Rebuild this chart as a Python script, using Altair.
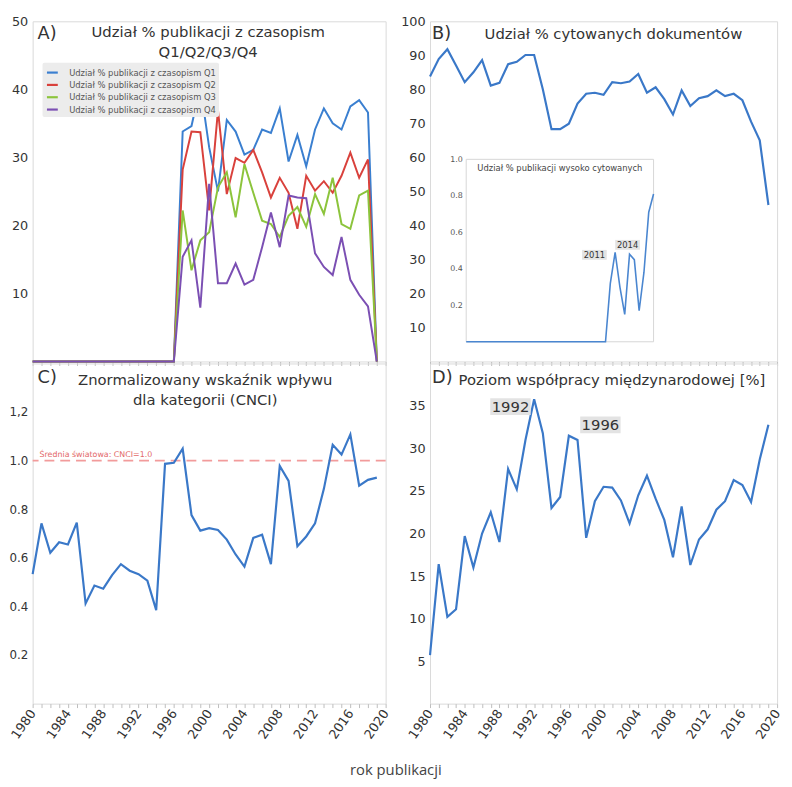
import altair as alt
import pandas as pd

FONT = "DejaVu Sans"
TXT = "#333333"
BLUE = "#3a78c8"

# ---------------- data ----------------
years = list(range(1980, 2020))
year_ticks = list(range(1980, 2021))

q_names = [
    "Udział % publikacji z czasopism Q1",
    "Udział % publikacji z czasopism Q2",
    "Udział % publikacji z czasopism Q3",
    "Udział % publikacji z czasopism Q4",
]
q_colors = ["#3a7fd0", "#d9413c", "#8cc43c", "#7b4fb3"]

zeros_before = [0] * 17  # 1980-1996
q1_share = zeros_before + [33.8, 34.6, 40.5, 31.5, 25.0, 35.5, 33.8, 30.4, 31.1, 34.1, 33.6,
                           37.2, 29.4, 33.3, 28.7, 34.1, 37.2, 35.0, 34.1, 37.5, 38.4, 36.6] + [0]
q2_share = zeros_before + [28.2, 33.8, 33.7, 22.2, 36.9, 24.6, 29.9, 29.2, 31.1, 27.8, 24.1,
                           27.0, 24.8, 19.5, 27.3, 25.1, 26.5, 24.8, 27.3, 30.7, 27.0, 29.7] + [0]
q3_share = zeros_before + [22.2, 13.4, 17.8, 19.0, 25.6, 27.8, 21.2, 29.0, 24.8, 20.7, 20.2,
                           18.3, 21.4, 22.7, 19.8, 24.6, 21.7, 27.0, 20.2, 19.5, 24.4, 25.1] + [0]
q4_share = zeros_before + [15.4, 17.8, 7.9, 26.1, 11.5, 11.5, 14.4, 11.3, 12.0, 16.8, 21.9,
                           16.8, 24.4, 24.1, 24.0, 15.9, 13.9, 12.7, 18.3, 12.0, 9.8, 8.1] + [0]

cited_share = [83.8, 88.9, 91.8, 87.0, 82.1, 85.0, 88.6, 81.1, 81.9, 87.4,
               88.1, 90.1, 90.1, 80.0, 68.3, 68.3, 69.9, 75.8, 78.7, 79.0,
               78.4, 82.1, 81.8, 82.3, 84.5, 79.0, 80.6, 77.1, 72.6, 79.7,
               75.1, 77.4, 78.0, 79.7, 78.0, 78.7, 76.8, 70.5, 65.0, 46.0]

highly_cited = [0] * 30 + [0.32, 0.49, 0.30, 0.15, 0.48, 0.45, 0.17, 0.38, 0.71, 0.81]

cnci = [0.533, 0.742, 0.621, 0.664, 0.655, 0.745, 0.412, 0.486, 0.473, 0.529,
        0.574, 0.547, 0.533, 0.506, 0.385, 0.987, 0.991, 1.049, 0.776, 0.712,
        0.722, 0.715, 0.675, 0.614, 0.564, 0.682, 0.695, 0.574, 0.978, 0.917,
        0.648, 0.688, 0.742, 0.884, 1.065, 1.025, 1.108, 0.897, 0.921, 0.930]

intl_collab = [5.7, 16.4, 10.2, 11.1, 19.7, 16.0, 20.0, 22.5, 19.0, 27.6,
               25.2, 31.0, 35.8, 31.8, 23.0, 24.3, 31.5, 31.0, 19.5, 23.8,
               25.5, 25.4, 23.9, 21.2, 24.5, 26.8, 24.1, 21.6, 17.2, 23.2,
               16.3, 19.3, 20.5, 22.8, 23.8, 26.3, 25.7, 23.7, 28.7, 32.8]

# ---------------- layout ----------------
W_L, W_R, H = 358, 352, 345


def x_enc(labels):
    common = dict(values=year_ticks, title=None, grid=False, domain=False, ticks=True,
                  tickSize=4, tickColor="#bdbdbd", tickWidth=1)
    if labels:
        axis = alt.Axis(labels=True, format="d",
                        labelExpr="datum.value % 4 == 0 ? datum.label : ''",
                        labelAngle=-55, labelAlign="right", labelBaseline="middle",
                        labelFont=FONT, labelFontSize=13, labelColor=TXT, labelPadding=3,
                        labelOverlap=False, labelFlush=False, **common)
    else:
        axis = alt.Axis(labels=False, **common)
    return alt.X("year:Q", scale=alt.Scale(domain=[1980, 2020], nice=False, zero=False), axis=axis)


def y_enc(domain, values, size=13, expr=None, pad=5):
    kw = dict(values=values, title=None, grid=False, domain=False, ticks=False,
              labelFont=FONT, labelFontSize=size, labelColor=TXT, labelPadding=pad)
    if expr:
        kw["labelExpr"] = expr
    return alt.Y("value:Q", scale=alt.Scale(domain=domain, nice=False, zero=False), axis=alt.Axis(**kw))


def txt(text, x, y, size, align="center", baseline="middle", color=TXT, line_height=None):
    props = dict(font=FONT, fontSize=size, align=align, baseline=baseline, color=color)
    if line_height:
        props["lineBreak"] = "\n"
        props["lineHeight"] = line_height
    return alt.Chart(pd.DataFrame({"t": [text]})).mark_text(**props).encode(
        text="t:N", x=alt.value(x), y=alt.value(y))


def annot(year, value, label, xenc, yenc, xoff, yoff, w, h, size):
    d = pd.DataFrame({"year": [year], "value": [value], "label": [label]})
    half = round(h / w, 4)
    box = alt.Chart(d).mark_point(
        shape=f"M-1,-{half}L1,-{half}L1,{half}L-1,{half}Z", filled=True,
        color="#e3e3e3", opacity=1, size=w * w, strokeWidth=0,
        xOffset=xoff, yOffset=yoff).encode(x=xenc, y=yenc)
    text = alt.Chart(d).mark_text(
        font=FONT, fontSize=size, color=TXT, align="center", baseline="middle",
        xOffset=xoff, yOffset=yoff).encode(x=xenc, y=yenc, text="label:N")
    return [box, text]


# ---------------- panel A ----------------
rows = []
for name, vals in zip(q_names, [q1_share, q2_share, q3_share, q4_share]):
    for yr, v in zip(years, vals):
        rows.append({"year": yr, "value": v, "series": name})
dfA = pd.DataFrame(rows)

linesA = alt.Chart(dfA).mark_line(strokeWidth=2).encode(
    x=x_enc(False),
    y=y_enc([0, 50], [10, 20, 30, 40, 50]),
    color=alt.Color("series:N", scale=alt.Scale(domain=q_names, range=q_colors),
                    legend=alt.Legend(title=None, orient="none", legendX=10, legendY=42,
                                      fillColor="#ececec", padding=3, cornerRadius=2,
                                      symbolType="stroke", symbolSize=121, symbolStrokeWidth=2.2,
                                      labelFont=FONT, labelFontSize=8.5, labelColor="#555",
                                      rowPadding=0.5, labelOffset=10, zindex=1)),
)
panelA = alt.layer(
    linesA,
    txt("A)", 5, 12.5, 18, align="left"),
    txt("Udział % publikacji z czasopism\nQ1/Q2/Q3/Q4", 178, 4, 15, baseline="top", line_height=20),
).properties(width=W_L, height=H)

# ---------------- panel B ----------------
dfB = pd.DataFrame({"year": years, "value": cited_share})
lineB = alt.Chart(dfB).mark_line(color=BLUE, strokeWidth=2.2).encode(
    x=x_enc(False), y=y_enc([0, 100], list(range(10, 101, 10))))
mainB = alt.layer(
    lineB,
    txt("B)", 2, 12.5, 18, align="left"),
    txt("Udział % cytowanych dokumentów", 186, 12.5, 15),
)

xin = alt.X("year:Q", scale=alt.Scale(domain=[1980, 2019], range=[36.7, 226.7], nice=False, zero=False),
            axis=None)
yin = alt.Y("value:Q", scale=alt.Scale(domain=[0, 1], range=[325, 140], nice=False, zero=False),
            axis=alt.Axis(orient="left", offset=-36.7, values=[0.2, 0.4, 0.6, 0.8, 1.0], format=".1f",
                          title=None, grid=False, domain=False, ticks=False, labelFont=FONT,
                          labelFontSize=8, labelColor="#555", labelPadding=4))
dfFrame = pd.DataFrame({"year": [1980], "year2": [2019], "value": [0.0], "value2": [1.0]})
frame = alt.Chart(dfFrame).mark_rect(fill="white", stroke="#d6d6d6", strokeWidth=1).encode(
    x=xin, x2="year2:Q", y=yin, y2="value2:Q")
dfI = pd.DataFrame({"year": years, "value": highly_cited})
inset_line = alt.Chart(dfI).mark_line(color="#4a86d0", strokeWidth=1.6).encode(x=xin, y=yin)
inset = alt.layer(
    frame, inset_line,
    txt("Udział % publikacji wysoko cytowanych", 131.7, 149, 8.5, color="#444"),
    *annot(2011, 0.49, "2011", xin, yin, -21, 2.5, 25, 10, 8.5),
    *annot(2014, 0.48, "2014", xin, yin, -2, -9.5, 25, 10, 8.5),
)
panelB = alt.layer(mainB, inset).resolve_scale(x="independent", y="independent").properties(
    width=W_R, height=H)

# ---------------- panel C ----------------
xC = x_enc(True)
yC = y_enc([0, 1.4], [0.2, 0.4, 0.6, 0.8, 1.0, 1.2], size=12,
           expr="datum.value == 1.2 ? '1,2' : format(datum.value, '.1f')")
dfC = pd.DataFrame({"year": years, "value": cnci})
lineC = alt.Chart(dfC).mark_line(color=BLUE, strokeWidth=2.2).encode(x=xC, y=yC)
ruleC = alt.Chart(pd.DataFrame({"value": [1.0]})).mark_rule(
    color="#f29b9b", strokeDash=[10, 6], strokeWidth=1.6).encode(y=yC)
ruleLabel = alt.Chart(pd.DataFrame({"value": [1.0], "t": ["Średnia światowa: CNCI=1.0"]})).mark_text(
    align="left", baseline="bottom", font=FONT, fontSize=8, color="#e36868", yOffset=-2).encode(
    x=alt.value(7), y=yC, text="t:N")
panelC = alt.layer(
    ruleC, lineC, ruleLabel,
    txt("C)", 5, 15, 18, align="left"),
    txt("Znormalizowany wskaźnik wpływu\ndla kategorii (CNCI)", 175, 10, 15, baseline="top", line_height=20),
).properties(width=W_L, height=H)

# ---------------- panel D ----------------
xD = x_enc(True)
yD = y_enc([0, 40], [5, 10, 15, 20, 25, 30, 35])
dfD = pd.DataFrame({"year": years, "value": intl_collab})
lineD = alt.Chart(dfD).mark_line(color=BLUE, strokeWidth=2.2).encode(x=xD, y=yD)
panelD = alt.layer(
    lineD,
    *annot(1992, 35.8, "1992", xD, yD, -24, 7.5, 41, 17, 15),
    *annot(1996, 31.5, "1996", xD, yD, 32, -11, 41, 17, 15),
    txt("D)", 2, 15, 18, align="left"),
    txt("Poziom współpracy międzynarodowej [%]", 29, 17, 15, align="left"),
).properties(width=W_R, height=H)

chart = alt.concat(
    panelA, panelB, panelC, panelD, columns=2,
    spacing={"row": 2, "column": 45}, bounds="flush",
).properties(
    title=alt.TitleParams("rok publikacji", orient="bottom", anchor="middle", fontSize=15,
                          font="Open Sans", fontWeight="normal", color="#444", offset=22),
).configure(
    padding={"left": 0, "top": 1, "right": 0, "bottom": 0}, background="white",
).configure_view(stroke="#d9d9d9", strokeWidth=1)

chart.save("out.html", embed_options={"renderer": "svg", "actions": False})
